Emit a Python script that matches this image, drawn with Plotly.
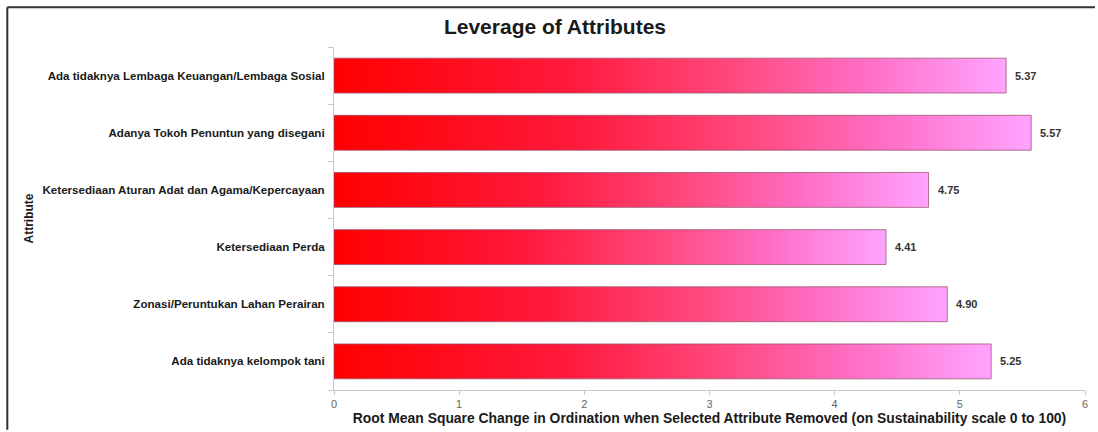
import plotly.graph_objects as go

categories = [
    "Ada tidaknya Lembaga Keuangan/Lembaga Sosial",
    "Adanya Tokoh Penuntun yang disegani",
    "Ketersediaan Aturan Adat dan Agama/Kepercayaan",
    "Ketersediaan Perda",
    "Zonasi/Peruntukan Lahan Perairan",
    "Ada tidaknya kelompok tani",
]
values = [5.37, 5.57, 4.75, 4.41, 4.90, 5.25]
value_labels = ["5.37", "5.57", "4.75", "4.41", "4.90", "5.25"]
x_ticks = [0, 1, 2, 3, 4, 5, 6]

FONT = "Liberation Sans, Arial, sans-serif"
HALF = 0.305
grad = [[0.0, "#ff0000"], [0.35, "#ff1a3c"], [0.6, "#ff4a80"], [0.8, "#ff70c8"], [1.0, "#ffa4ff"]]

fig = go.Figure()
for i, v in enumerate(values):
    fig.add_trace(go.Scatter(
        x=[0, v, v, 0, 0],
        y=[i - HALF, i - HALF, i + HALF, i + HALF, i - HALF],
        mode="lines",
        fill="toself",
        fillgradient=dict(type="horizontal", colorscale=grad),
        line=dict(color="rgba(150,80,110,0.75)", width=1),
        hoverinfo="skip",
        showlegend=False,
    ))

annotations = []
for i, (v, t) in enumerate(zip(values, value_labels)):
    annotations.append(dict(
        x=v, y=i, xref="x", yref="y",
        text="<b>%s</b>" % t, showarrow=False,
        xanchor="left", yanchor="middle", xshift=7,
        font=dict(family=FONT, size=11, color="#333333"),
    ))

fig.update_layout(
    width=1098,
    height=432,
    margin=dict(l=334, r=10, t=47, b=40),
    paper_bgcolor="white",
    plot_bgcolor="white",
    annotations=annotations,
    title=dict(
        text="<b>Leverage of Attributes</b>",
        x=555 / 1098, xanchor="center",
        y=1 - 27 / 432, yanchor="middle",
        font=dict(family=FONT, size=21, color="#1a1a1a"),
    ),
    xaxis=dict(
        range=[0, 6],
        tickvals=x_ticks,
        ticktext=[str(t) for t in x_ticks],
        showgrid=False,
        zeroline=False,
        showline=True,
        linecolor="#c8c8c8",
        linewidth=1,
        ticks="outside",
        ticklen=4,
        tickcolor="#c8c8c8",
        tickfont=dict(family=FONT, size=11, color="#666666"),
        title=dict(
            text="<b>Root Mean Square Change in Ordination when Selected Attribute Removed (on Sustainability scale 0 to 100)</b>",
            font=dict(family=FONT, size=13.9, color="#1a1a1a"),
            standoff=2,
        ),
    ),
    yaxis=dict(
        range=[5.5, -0.5],
        tickvals=list(range(len(categories))),
        ticktext=["<b>%s</b>" % c for c in categories],
        showgrid=False,
        zeroline=False,
        showline=True,
        linecolor="#c8c8c8",
        linewidth=1,
        ticks="",
        ticklabelstandoff=6,
        tickfont=dict(family=FONT, size=11.6, color="#1a1a1a"),
        minor=dict(tick0=-0.5, dtick=1, ticks="outside", ticklen=5, tickcolor="#c8c8c8", showgrid=False),
        title=dict(text="<b>Attribute</b>", font=dict(family=FONT, size=12, color="#1a1a1a"), standoff=6),
    ),
    shapes=[
        dict(type="line", xref="paper", yref="paper",
             x0=(6 - 334) / 754, x1=(1098 - 334) / 754,
             y0=(392 - 7) / 345, y1=(392 - 7) / 345,
             line=dict(color="#333333", width=2)),
        dict(type="line", xref="paper", yref="paper",
             x0=(6 - 334) / 754, x1=(6 - 334) / 754,
             y0=(392 - 7) / 345, y1=(392 - 432) / 345,
             line=dict(color="#333333", width=2)),
    ],
)

fig.write_html("out.html")
